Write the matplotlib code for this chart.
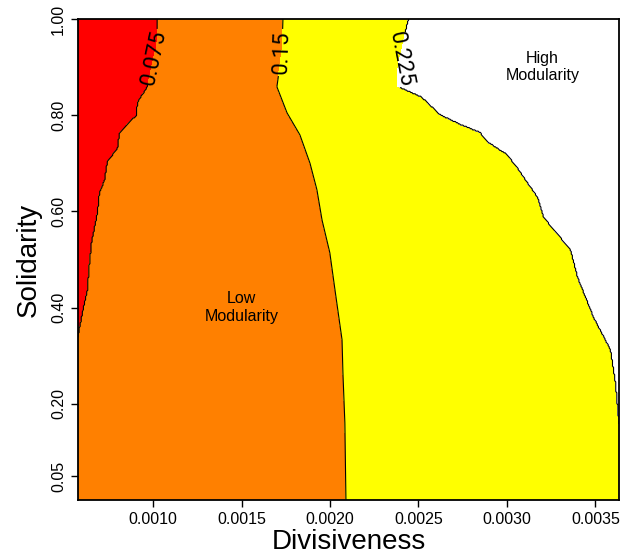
import matplotlib.pyplot as plt
import numpy as np

plt.rcParams['font.family'] = ['Liberation Sans', 'DejaVu Sans']

# contour boundaries: solidarity (y) -> divisiveness (x)
red_y = [1.0, 0.94, 0.859, 0.827, 0.80, 0.763, 0.732, 0.703, 0.665, 0.638,
         0.597, 0.534, 0.493, 0.437, 0.389, 0.347, 0.30, 0.15, 0.0]
red_x = [0.001028, 0.001022, 0.000971, 0.000915, 0.000909, 0.000813, 0.000802,
         0.000745, 0.000729, 0.000700, 0.000689, 0.000655, 0.000644, 0.000632,
         0.000604, 0.000582, 0.00055, 0.00048, 0.00042]

orange_y = [1.0, 0.936, 0.859, 0.805, 0.759, 0.70, 0.645, 0.582, 0.514,
            0.437, 0.333, 0.264, 0.16, 0.0]
orange_x = [0.001734, 0.001729, 0.001700, 0.001757, 0.001830, 0.001887,
            0.001926, 0.001955, 0.001999, 0.002028, 0.002068, 0.002073,
            0.002084, 0.002090]

yellow_y = [1.0, 0.973, 0.904, 0.859, 0.836, 0.80, 0.78, 0.763, 0.744, 0.717,
            0.69, 0.659, 0.63, 0.588, 0.52, 0.464, 0.38, 0.312, 0.243, 0.173,
            0.156, 0.10, 0.0]
yellow_x = [0.002440, 0.002423, 0.002384, 0.002378, 0.002519, 0.002621,
            0.002734, 0.002847, 0.002887, 0.003000, 0.003056, 0.003113,
            0.003169, 0.003203, 0.003356, 0.003395, 0.003486, 0.003582,
            0.003610, 0.003627, 0.003633, 0.00366, 0.0037]

levels = [0.075, 0.15, 0.225]
level_labels = ['0.075', '0.15', '0.225']
fill_colors = ['#FF0000', '#FF8000', '#FFFF00', '#FFFFFF']

xmin, xmax = 0.000576, 0.003633

# build the modularity field from the boundaries
xs = np.linspace(xmin, xmax, 500)
ys = np.linspace(0, 1, 400)
Z = np.zeros((len(ys), len(xs)))
for i, yv in enumerate(ys):
    b1 = np.interp(yv, red_y[::-1], red_x[::-1])
    b2 = np.interp(yv, orange_y[::-1], orange_x[::-1])
    b3 = np.interp(yv, yellow_y[::-1], yellow_x[::-1])
    Z[i] = np.interp(xs, [-1, b1, b2, b3, 1], [0, 0.075, 0.15, 0.225, 0.3])
X, Y = np.meshgrid(xs, ys)

fig = plt.figure(figsize=(6.32, 5.59), dpi=100)
ax = fig.add_axes([78/632, 59/559, 541/632, 481/559])

ax.contourf(X, Y, Z, levels=[0] + levels + [0.3], colors=fill_colors)
cs = ax.contour(X, Y, Z, levels=levels, colors='black', linewidths=0.8)
lbls = ax.clabel(cs, fmt=dict(zip(levels, level_labels)), inline=True,
                 fontsize=16, inline_spacing=2,
                 manual=[(0.00100, 0.92), (0.00173, 0.93), (0.00243, 0.915)])
for t in lbls:
    t.set_fontfamily(['Roboto', 'DejaVu Sans'])
    t.set_color('black')
    if t.get_text() == '0.075':
        t.set_rotation(78)
    elif t.get_text() == '0.15':
        t.set_rotation(88)
    else:
        t.set_rotation(-79)

ax.text(0.0015, 0.40, 'Low\nModularity', ha='center', va='center', fontsize=11.5)
ax.text(0.0032, 0.90, 'High\nModularity', ha='center', va='center', fontsize=11.5)

ax.set_xlim(xmin, xmax)
ax.set_ylim(0, 1)
ax.set_xticks([0.0010, 0.0015, 0.0020, 0.0025, 0.0030, 0.0035])
ax.set_xticklabels(['0.0010', '0.0015', '0.0020', '0.0025', '0.0030', '0.0035'])
ax.set_yticks([0.05, 0.20, 0.40, 0.60, 0.80, 1.00])
ax.set_yticklabels(['0.05', '0.20', '0.40', '0.60', '0.80', '1.00'],
                   rotation=90, va='center')
ax.tick_params(labelsize=11.5, length=5, width=1)
for s in ax.spines.values():
    s.set_linewidth(1.3)

ax.set_xlabel('Divisiveness', fontsize=20)
ax.set_ylabel('Solidarity', fontsize=20)
ax.xaxis.set_label_coords(0.5, -0.06)
ax.yaxis.set_label_coords(-0.067, 0.5)

fig.savefig('out.png', dpi=100)
